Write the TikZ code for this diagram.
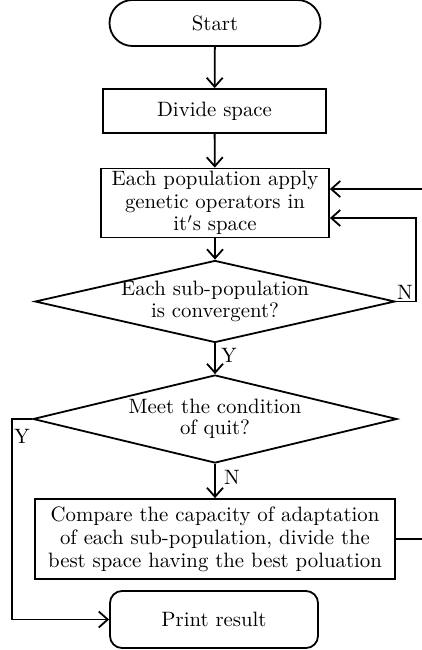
\documentclass[tikz,border=0pt]{standalone}
\usetikzlibrary{shapes.geometric,arrows.meta}
\begin{document}
\begin{tikzpicture}[x=0.5pt,y=-0.5pt,
  base/.style={draw, line width=0.9pt, font=\fontsize{10.4}{10.6}\selectfont, align=center, inner sep=0pt},
  term/.style={base, rounded corners=11.5pt, minimum width=105.5pt, minimum height=23pt},
  proc/.style={base, rectangle},
  dec/.style={base, diamond, aspect=4.4, inner xsep=-20pt, inner ysep=-6pt},
  conn/.style={line width=0.9pt, -{Straight Barb[length=4.5pt,width=8pt,line width=0.9pt]}},
  lbl/.style={font=\fontsize{10.4}{10.6}\selectfont, inner sep=0pt}]
\useasboundingbox (0,0) rectangle (422,650);
\clip (0,0) rectangle (422,650);
\node[term] (start) at (215,23) {Start};
\node[proc, minimum width=111.5pt, minimum height=22pt] (divide) at (214.5,111) {Divide space};
\node[proc, minimum width=114pt, minimum height=34.5pt, font=\fontsize{10.4}{11.2}\selectfont] (pop) at (215,203) {Each population apply\\genetic operators in\\ it$'$s space};
\node[dec, minimum width=180pt, minimum height=41pt] (d1) at (215,301.5) {Each sub-population\\is convergent?};
\node[dec, minimum width=182pt, minimum height=44pt] (d2) at (215,419) {Meet the condition\\of quit?};
\node[proc, minimum width=180pt, minimum height=40pt, font=\fontsize{10.4}{11.5}\selectfont] (cmp) at (215,539) {Compare the capacity of adaptation\\of each sub-population, divide the\\best space having the best poluation};
\node[base, rounded corners=6pt, minimum width=104pt, minimum height=28.5pt] (pr) at (214,619.5) {Print result};

\draw[conn] (start) -- (divide);
\draw[conn] (divide) -- (pop);
\draw[conn] (pop) -- (d1);
\draw[conn] (d1) -- (d2);
\draw[conn] (d2) -- (cmp);

\coordinate (r1) at (416,218);
\draw[conn] (d1.east) -| (r1) -- (r1 -| pop.east);
\coordinate (r2) at (440,189);
\draw[conn] (cmp.east) -| (r2) -- (r2 -| pop.east);
\coordinate (l1) at (12,0);
\draw[conn] (d2.west) -| (l1 |- pr.west) -- (pr.west);

\node[lbl] (nA) at (405,292) {N};
\node[lbl] (yA) at (229,355) {Y};
\node[lbl] (nB) at (232,477) {N};
\node[lbl] (yB) at (22,436) {Y};
\end{tikzpicture}
\end{document}
